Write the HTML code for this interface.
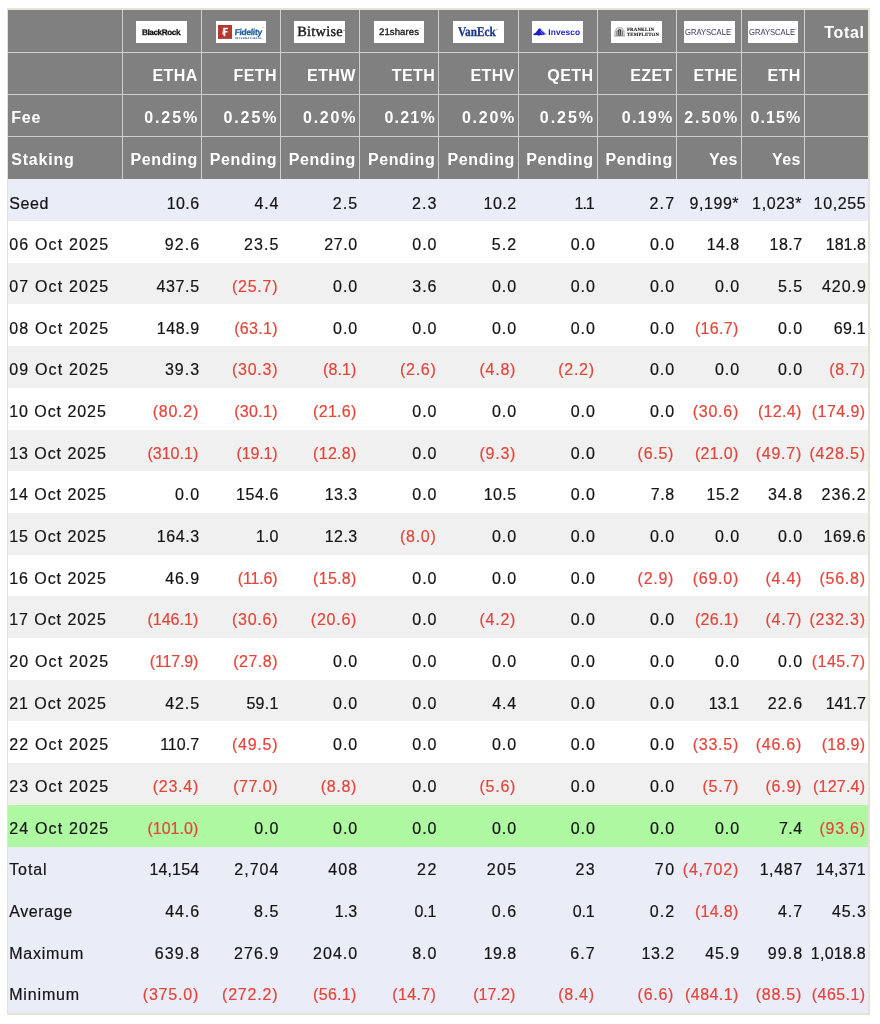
<!DOCTYPE html>
<html lang="en">
<head>
<meta charset="utf-8">
<title>Ethereum ETF Flow (US$m)</title>
<style>
html,body{margin:0;padding:0;background:#fff}
body{width:880px;height:1024px;position:relative;overflow:hidden;font-family:"Liberation Sans",Arial,sans-serif;-webkit-font-smoothing:antialiased}
.tbl{position:absolute;left:6.8px;top:8.3px;width:863.3px;height:1006.5px;background:#e6e2d6}
.hd{position:absolute;left:8.2px;top:10px;width:860px;height:169.3px;background:#808080}
.hl{position:absolute;left:8.2px;width:860px;height:1px;background:#cfcfcf}
.vl{position:absolute;top:10px;height:169.3px;width:1px;background:#cfcfcf}
.r{position:absolute;left:8.2px;width:860px;height:42px}
.t{position:absolute;left:0;width:860px;height:20px}
.c{position:absolute;top:0;height:20px;line-height:20px;font-size:16px;letter-spacing:1.05px;color:#141414;-webkit-text-stroke:.2px;text-align:right;white-space:nowrap}
.c.n{color:#e4453a}
.c.lb{text-align:left}
.h{position:absolute;height:20px;line-height:20px;font-size:16px;font-weight:bold;letter-spacing:0.4px;color:#fff;text-align:right;white-space:nowrap}
.h.lb{text-align:left}
.lg{position:absolute;top:21px;width:50.6px;height:22px;background:#fff;overflow:hidden}

.lg span{position:absolute;white-space:nowrap;line-height:1;transform-origin:0 0;text-rendering:geometricPrecision}
.lg svg{position:absolute}

</style>
</head>
<body>
<div class="tbl"></div>
<div class="r" style="top:179.3px;height:42px;background:#eaecf8">
<div class="t" style="top:14.3px">
<div class="c lb" style="left:1px;width:113.05px;letter-spacing:0.6px">Seed</div>
<div class="c" style="left:114.05px;width:77.28px;letter-spacing:0.43px">10.6</div>
<div class="c" style="left:193.3px;width:77.6px;letter-spacing:0.75px">4.4</div>
<div class="c" style="left:272.55px;width:77.51px;letter-spacing:1.06px">2.5</div>
<div class="c" style="left:351.4px;width:77.98px;letter-spacing:1.08px">2.3</div>
<div class="c" style="left:430.7px;width:77.66px;letter-spacing:0.46px">10.2</div>
<div class="c" style="left:510.3px;width:75.33px;letter-spacing:-0.97px">1.1</div>
<div class="c" style="left:589px;width:78.03px;letter-spacing:1.13px">2.7</div>
<div class="c" style="left:668.3px;width:62.65px;letter-spacing:0.55px">9,199*</div>
<div class="c" style="left:733.3px;width:60.74px;letter-spacing:0.64px">1,023*</div>
<div class="c" style="left:796.3px;width:61.95px;letter-spacing:0.65px">10,255</div>
</div></div>
<div class="r" style="top:221px;height:42px;background:#ffffff">
<div class="t" style="top:14.27px">
<div class="c lb" style="left:1px;width:113.05px;letter-spacing:1.18px">06 Oct 2025</div>
<div class="c" style="left:114.05px;width:77.89px;letter-spacing:1.04px">92.6</div>
<div class="c" style="left:193.3px;width:77.89px;letter-spacing:1.04px">23.5</div>
<div class="c" style="left:272.55px;width:77.08px;letter-spacing:0.63px">27.0</div>
<div class="c" style="left:351.4px;width:77.85px;letter-spacing:0.95px">0.0</div>
<div class="c" style="left:430.7px;width:78.25px;letter-spacing:1.05px">5.2</div>
<div class="c" style="left:510.3px;width:77.25px;letter-spacing:0.95px">0.0</div>
<div class="c" style="left:589px;width:77.85px;letter-spacing:0.95px">0.0</div>
<div class="c" style="left:668.3px;width:63.03px;letter-spacing:0.43px">14.8</div>
<div class="c" style="left:733.3px;width:61.06px;letter-spacing:0.46px">18.7</div>
<div class="c" style="left:796.3px;width:61.3px;letter-spacing:-0px">181.8</div>
</div></div>
<div class="r" style="top:262.7px;height:42px;background:#f0f0f0">
<div class="t" style="top:14.23px">
<div class="c lb" style="left:1px;width:113.05px;letter-spacing:1.18px">07 Oct 2025</div>
<div class="c" style="left:114.05px;width:77.48px;letter-spacing:0.63px">437.5</div>
<div class="c n" style="left:193.3px;width:76.87px;letter-spacing:0.77px">(25.7)</div>
<div class="c" style="left:272.55px;width:77.4px;letter-spacing:0.95px">0.0</div>
<div class="c" style="left:351.4px;width:77.88px;letter-spacing:0.98px">3.6</div>
<div class="c" style="left:430.7px;width:78.15px;letter-spacing:0.95px">0.0</div>
<div class="c" style="left:510.3px;width:77.25px;letter-spacing:0.95px">0.0</div>
<div class="c" style="left:589px;width:77.85px;letter-spacing:0.95px">0.0</div>
<div class="c" style="left:668.3px;width:63.55px;letter-spacing:0.95px">0.0</div>
<div class="c" style="left:733.3px;width:61.58px;letter-spacing:0.98px">5.5</div>
<div class="c" style="left:796.3px;width:62.25px;letter-spacing:0.95px">420.9</div>
</div></div>
<div class="r" style="top:304.4px;height:42px;background:#ffffff">
<div class="t" style="top:14.2px">
<div class="c lb" style="left:1px;width:113.05px;letter-spacing:1.18px">08 Oct 2025</div>
<div class="c" style="left:114.05px;width:77.44px;letter-spacing:0.59px">148.9</div>
<div class="c n" style="left:193.3px;width:76.41px;letter-spacing:0.31px">(63.1)</div>
<div class="c" style="left:272.55px;width:77.4px;letter-spacing:0.95px">0.0</div>
<div class="c" style="left:351.4px;width:77.85px;letter-spacing:0.95px">0.0</div>
<div class="c" style="left:430.7px;width:78.15px;letter-spacing:0.95px">0.0</div>
<div class="c" style="left:510.3px;width:77.25px;letter-spacing:0.95px">0.0</div>
<div class="c" style="left:589px;width:77.85px;letter-spacing:0.95px">0.0</div>
<div class="c n" style="left:668.3px;width:62.16px;letter-spacing:0.31px">(16.7)</div>
<div class="c" style="left:733.3px;width:61.55px;letter-spacing:0.95px">0.0</div>
<div class="c" style="left:796.3px;width:61.62px;letter-spacing:0.32px">69.1</div>
</div></div>
<div class="r" style="top:346.1px;height:42px;background:#f0f0f0">
<div class="t" style="top:14.17px">
<div class="c lb" style="left:1px;width:113.05px;letter-spacing:1.18px">09 Oct 2025</div>
<div class="c" style="left:114.05px;width:77.84px;letter-spacing:0.99px">39.3</div>
<div class="c n" style="left:193.3px;width:76.87px;letter-spacing:0.77px">(30.3)</div>
<div class="c n" style="left:272.55px;width:75.83px;letter-spacing:0.13px">(8.1)</div>
<div class="c n" style="left:351.4px;width:76.86px;letter-spacing:0.71px">(2.6)</div>
<div class="c n" style="left:430.7px;width:77.16px;letter-spacing:0.71px">(4.8)</div>
<div class="c n" style="left:510.3px;width:76.26px;letter-spacing:0.71px">(2.2)</div>
<div class="c" style="left:589px;width:77.85px;letter-spacing:0.95px">0.0</div>
<div class="c" style="left:668.3px;width:63.55px;letter-spacing:0.95px">0.0</div>
<div class="c" style="left:733.3px;width:61.55px;letter-spacing:0.95px">0.0</div>
<div class="c n" style="left:796.3px;width:61.26px;letter-spacing:0.71px">(8.7)</div>
</div></div>
<div class="r" style="top:387.8px;height:42px;background:#ffffff">
<div class="t" style="top:14.13px">
<div class="c lb" style="left:1px;width:113.05px;letter-spacing:0.95px">10 Oct 2025</div>
<div class="c n" style="left:114.05px;width:76.87px;letter-spacing:0.77px">(80.2)</div>
<div class="c n" style="left:193.3px;width:76.41px;letter-spacing:0.31px">(30.1)</div>
<div class="c n" style="left:272.55px;width:76.01px;letter-spacing:0.31px">(21.6)</div>
<div class="c" style="left:351.4px;width:77.85px;letter-spacing:0.95px">0.0</div>
<div class="c" style="left:430.7px;width:78.15px;letter-spacing:0.95px">0.0</div>
<div class="c" style="left:510.3px;width:77.25px;letter-spacing:0.95px">0.0</div>
<div class="c" style="left:589px;width:77.85px;letter-spacing:0.95px">0.0</div>
<div class="c n" style="left:668.3px;width:62.62px;letter-spacing:0.77px">(30.6)</div>
<div class="c n" style="left:733.3px;width:60.16px;letter-spacing:0.31px">(12.4)</div>
<div class="c n" style="left:796.3px;width:60.97px;letter-spacing:0.42px">(174.9)</div>
</div></div>
<div class="r" style="top:429.5px;height:42px;background:#f0f0f0">
<div class="t" style="top:14.1px">
<div class="c lb" style="left:1px;width:113.05px;letter-spacing:0.95px">13 Oct 2025</div>
<div class="c n" style="left:114.05px;width:76.14px;letter-spacing:0.04px">(310.1)</div>
<div class="c n" style="left:193.3px;width:75.95px;letter-spacing:-0.15px">(19.1)</div>
<div class="c n" style="left:272.55px;width:76.01px;letter-spacing:0.31px">(12.8)</div>
<div class="c" style="left:351.4px;width:77.85px;letter-spacing:0.95px">0.0</div>
<div class="c n" style="left:430.7px;width:77.16px;letter-spacing:0.71px">(9.3)</div>
<div class="c" style="left:510.3px;width:77.25px;letter-spacing:0.95px">0.0</div>
<div class="c n" style="left:589px;width:76.86px;letter-spacing:0.71px">(6.5)</div>
<div class="c n" style="left:668.3px;width:62.16px;letter-spacing:0.31px">(21.0)</div>
<div class="c n" style="left:733.3px;width:60.62px;letter-spacing:0.77px">(49.7)</div>
<div class="c n" style="left:796.3px;width:61.36px;letter-spacing:0.81px">(428.5)</div>
</div></div>
<div class="r" style="top:471.2px;height:42px;background:#ffffff">
<div class="t" style="top:14.07px">
<div class="c lb" style="left:1px;width:113.05px;letter-spacing:0.95px">14 Oct 2025</div>
<div class="c" style="left:114.05px;width:77.8px;letter-spacing:0.95px">0.0</div>
<div class="c" style="left:193.3px;width:77.42px;letter-spacing:0.57px">154.6</div>
<div class="c" style="left:272.55px;width:76.88px;letter-spacing:0.43px">13.3</div>
<div class="c" style="left:351.4px;width:77.85px;letter-spacing:0.95px">0.0</div>
<div class="c" style="left:430.7px;width:77.62px;letter-spacing:0.42px">10.5</div>
<div class="c" style="left:510.3px;width:77.25px;letter-spacing:0.95px">0.0</div>
<div class="c" style="left:589px;width:77.39px;letter-spacing:0.49px">7.8</div>
<div class="c" style="left:668.3px;width:63.06px;letter-spacing:0.46px">15.2</div>
<div class="c" style="left:733.3px;width:61.59px;letter-spacing:0.99px">34.8</div>
<div class="c" style="left:796.3px;width:62.37px;letter-spacing:1.07px">236.2</div>
</div></div>
<div class="r" style="top:512.9px;height:42px;background:#f0f0f0">
<div class="t" style="top:14.04px">
<div class="c lb" style="left:1px;width:113.05px;letter-spacing:0.95px">15 Oct 2025</div>
<div class="c" style="left:114.05px;width:77.42px;letter-spacing:0.57px">164.3</div>
<div class="c" style="left:193.3px;width:76.95px;letter-spacing:0.1px">1.0</div>
<div class="c" style="left:272.55px;width:76.88px;letter-spacing:0.43px">12.3</div>
<div class="c n" style="left:351.4px;width:76.86px;letter-spacing:0.71px">(8.0)</div>
<div class="c" style="left:430.7px;width:78.15px;letter-spacing:0.95px">0.0</div>
<div class="c" style="left:510.3px;width:77.25px;letter-spacing:0.95px">0.0</div>
<div class="c" style="left:589px;width:77.85px;letter-spacing:0.95px">0.0</div>
<div class="c" style="left:668.3px;width:63.55px;letter-spacing:0.95px">0.0</div>
<div class="c" style="left:733.3px;width:61.55px;letter-spacing:0.95px">0.0</div>
<div class="c" style="left:796.3px;width:61.87px;letter-spacing:0.57px">169.6</div>
</div></div>
<div class="r" style="top:554.6px;height:42px;background:#ffffff">
<div class="t" style="top:14px">
<div class="c lb" style="left:1px;width:113.05px;letter-spacing:0.95px">16 Oct 2025</div>
<div class="c" style="left:114.05px;width:77.78px;letter-spacing:0.93px">46.9</div>
<div class="c n" style="left:193.3px;width:75.95px;letter-spacing:-0.15px">(11.6)</div>
<div class="c n" style="left:272.55px;width:76.01px;letter-spacing:0.31px">(15.8)</div>
<div class="c" style="left:351.4px;width:77.85px;letter-spacing:0.95px">0.0</div>
<div class="c" style="left:430.7px;width:78.15px;letter-spacing:0.95px">0.0</div>
<div class="c" style="left:510.3px;width:77.25px;letter-spacing:0.95px">0.0</div>
<div class="c n" style="left:589px;width:76.86px;letter-spacing:0.71px">(2.9)</div>
<div class="c n" style="left:668.3px;width:62.62px;letter-spacing:0.77px">(69.0)</div>
<div class="c n" style="left:733.3px;width:60.56px;letter-spacing:0.71px">(4.4)</div>
<div class="c n" style="left:796.3px;width:61.32px;letter-spacing:0.77px">(56.8)</div>
</div></div>
<div class="r" style="top:596.3px;height:42px;background:#f0f0f0">
<div class="t" style="top:13.97px">
<div class="c lb" style="left:1px;width:113.05px;letter-spacing:0.95px">17 Oct 2025</div>
<div class="c n" style="left:114.05px;width:76.14px;letter-spacing:0.04px">(146.1)</div>
<div class="c n" style="left:193.3px;width:76.87px;letter-spacing:0.77px">(30.6)</div>
<div class="c n" style="left:272.55px;width:76.47px;letter-spacing:0.77px">(20.6)</div>
<div class="c" style="left:351.4px;width:77.85px;letter-spacing:0.95px">0.0</div>
<div class="c n" style="left:430.7px;width:77.16px;letter-spacing:0.71px">(4.2)</div>
<div class="c" style="left:510.3px;width:77.25px;letter-spacing:0.95px">0.0</div>
<div class="c" style="left:589px;width:77.85px;letter-spacing:0.95px">0.0</div>
<div class="c n" style="left:668.3px;width:62.16px;letter-spacing:0.31px">(26.1)</div>
<div class="c n" style="left:733.3px;width:60.56px;letter-spacing:0.71px">(4.7)</div>
<div class="c n" style="left:796.3px;width:61.36px;letter-spacing:0.81px">(232.3)</div>
</div></div>
<div class="r" style="top:638px;height:42px;background:#ffffff">
<div class="t" style="top:13.94px">
<div class="c lb" style="left:1px;width:113.05px;letter-spacing:1.18px">20 Oct 2025</div>
<div class="c n" style="left:114.05px;width:75.94px;letter-spacing:-0.16px">(117.9)</div>
<div class="c n" style="left:193.3px;width:76.63px;letter-spacing:0.53px">(27.8)</div>
<div class="c" style="left:272.55px;width:77.4px;letter-spacing:0.95px">0.0</div>
<div class="c" style="left:351.4px;width:77.85px;letter-spacing:0.95px">0.0</div>
<div class="c" style="left:430.7px;width:78.15px;letter-spacing:0.95px">0.0</div>
<div class="c" style="left:510.3px;width:77.25px;letter-spacing:0.95px">0.0</div>
<div class="c" style="left:589px;width:77.85px;letter-spacing:0.95px">0.0</div>
<div class="c" style="left:668.3px;width:63.55px;letter-spacing:0.95px">0.0</div>
<div class="c" style="left:733.3px;width:61.55px;letter-spacing:0.95px">0.0</div>
<div class="c n" style="left:796.3px;width:60.97px;letter-spacing:0.42px">(145.7)</div>
</div></div>
<div class="r" style="top:679.7px;height:42px;background:#f0f0f0">
<div class="t" style="top:13.9px">
<div class="c lb" style="left:1px;width:113.05px;letter-spacing:0.95px">21 Oct 2025</div>
<div class="c" style="left:114.05px;width:77.75px;letter-spacing:0.9px">42.5</div>
<div class="c" style="left:193.3px;width:77.11px;letter-spacing:0.26px">59.1</div>
<div class="c" style="left:272.55px;width:77.4px;letter-spacing:0.95px">0.0</div>
<div class="c" style="left:351.4px;width:77.85px;letter-spacing:0.95px">0.0</div>
<div class="c" style="left:430.7px;width:77.95px;letter-spacing:0.75px">4.4</div>
<div class="c" style="left:510.3px;width:77.25px;letter-spacing:0.95px">0.0</div>
<div class="c" style="left:589px;width:77.85px;letter-spacing:0.95px">0.0</div>
<div class="c" style="left:668.3px;width:62.29px;letter-spacing:-0.31px">13.1</div>
<div class="c" style="left:733.3px;width:61.65px;letter-spacing:1.05px">22.6</div>
<div class="c" style="left:796.3px;width:61.32px;letter-spacing:0.02px">141.7</div>
</div></div>
<div class="r" style="top:721.4px;height:42px;background:#ffffff">
<div class="t" style="top:13.87px">
<div class="c lb" style="left:1px;width:113.05px;letter-spacing:1.18px">22 Oct 2025</div>
<div class="c" style="left:114.05px;width:76.87px;letter-spacing:0.02px">110.7</div>
<div class="c n" style="left:193.3px;width:76.87px;letter-spacing:0.77px">(49.5)</div>
<div class="c" style="left:272.55px;width:77.4px;letter-spacing:0.95px">0.0</div>
<div class="c" style="left:351.4px;width:77.85px;letter-spacing:0.95px">0.0</div>
<div class="c" style="left:430.7px;width:78.15px;letter-spacing:0.95px">0.0</div>
<div class="c" style="left:510.3px;width:77.25px;letter-spacing:0.95px">0.0</div>
<div class="c" style="left:589px;width:77.85px;letter-spacing:0.95px">0.0</div>
<div class="c n" style="left:668.3px;width:62.62px;letter-spacing:0.77px">(33.5)</div>
<div class="c n" style="left:733.3px;width:60.62px;letter-spacing:0.77px">(46.6)</div>
<div class="c n" style="left:796.3px;width:60.86px;letter-spacing:0.31px">(18.9)</div>
</div></div>
<div class="r" style="top:763.1px;height:42px;background:#f0f0f0">
<div class="t" style="top:13.84px">
<div class="c lb" style="left:1px;width:113.05px;letter-spacing:1.18px">23 Oct 2025</div>
<div class="c n" style="left:114.05px;width:76.87px;letter-spacing:0.77px">(23.4)</div>
<div class="c n" style="left:193.3px;width:76.63px;letter-spacing:0.53px">(77.0)</div>
<div class="c n" style="left:272.55px;width:76.41px;letter-spacing:0.71px">(8.8)</div>
<div class="c" style="left:351.4px;width:77.85px;letter-spacing:0.95px">0.0</div>
<div class="c n" style="left:430.7px;width:77.16px;letter-spacing:0.71px">(5.6)</div>
<div class="c" style="left:510.3px;width:77.25px;letter-spacing:0.95px">0.0</div>
<div class="c" style="left:589px;width:77.85px;letter-spacing:0.95px">0.0</div>
<div class="c n" style="left:668.3px;width:62.56px;letter-spacing:0.71px">(5.7)</div>
<div class="c n" style="left:733.3px;width:60.56px;letter-spacing:0.71px">(6.9)</div>
<div class="c n" style="left:796.3px;width:60.77px;letter-spacing:0.22px">(127.4)</div>
</div></div>
<div class="r" style="top:804.8px;height:42px;background:#adf8a0">
<div class="t" style="top:13.81px">
<div class="c lb" style="left:1px;width:113.05px;letter-spacing:1.18px">24 Oct 2025</div>
<div class="c n" style="left:114.05px;width:76.14px;letter-spacing:0.04px">(101.0)</div>
<div class="c" style="left:193.3px;width:77.8px;letter-spacing:0.95px">0.0</div>
<div class="c" style="left:272.55px;width:77.4px;letter-spacing:0.95px">0.0</div>
<div class="c" style="left:351.4px;width:77.85px;letter-spacing:0.95px">0.0</div>
<div class="c" style="left:430.7px;width:78.15px;letter-spacing:0.95px">0.0</div>
<div class="c" style="left:510.3px;width:77.25px;letter-spacing:0.95px">0.0</div>
<div class="c" style="left:589px;width:77.85px;letter-spacing:0.95px">0.0</div>
<div class="c" style="left:668.3px;width:63.55px;letter-spacing:0.95px">0.0</div>
<div class="c" style="left:733.3px;width:60.97px;letter-spacing:0.37px">7.4</div>
<div class="c n" style="left:796.3px;width:61.32px;letter-spacing:0.77px">(93.6)</div>
</div></div>
<div class="r" style="top:846.5px;height:42px;background:#eaecf8">
<div class="t" style="top:13.77px">
<div class="c lb" style="left:1px;width:113.05px;letter-spacing:0.9px">Total</div>
<div class="c" style="left:114.05px;width:77px;letter-spacing:0.15px">14,154</div>
<div class="c" style="left:193.3px;width:77.83px;letter-spacing:0.98px">2,704</div>
<div class="c" style="left:272.55px;width:77.54px;letter-spacing:1.09px">408</div>
<div class="c" style="left:351.4px;width:78.6px;letter-spacing:1.7px">22</div>
<div class="c" style="left:430.7px;width:78.49px;letter-spacing:1.29px">205</div>
<div class="c" style="left:510.3px;width:77.9px;letter-spacing:1.6px">23</div>
<div class="c" style="left:589px;width:78.44px;letter-spacing:1.54px">70</div>
<div class="c n" style="left:668.3px;width:62.66px;letter-spacing:0.81px">(4,702)</div>
<div class="c" style="left:733.3px;width:61.2px;letter-spacing:0.6px">1,487</div>
<div class="c" style="left:796.3px;width:61.51px;letter-spacing:0.21px">14,371</div>
</div></div>
<div class="r" style="top:888.2px;height:42px;background:#eaecf8">
<div class="t" style="top:13.74px">
<div class="c lb" style="left:1px;width:113.05px;letter-spacing:0.6px">Average</div>
<div class="c" style="left:114.05px;width:77.76px;letter-spacing:0.91px">44.6</div>
<div class="c" style="left:193.3px;width:77.86px;letter-spacing:1.01px">8.5</div>
<div class="c" style="left:272.55px;width:76.59px;letter-spacing:0.14px">1.3</div>
<div class="c" style="left:351.4px;width:76.78px;letter-spacing:-0.12px">0.1</div>
<div class="c" style="left:430.7px;width:78.19px;letter-spacing:0.99px">0.6</div>
<div class="c" style="left:510.3px;width:76.18px;letter-spacing:-0.12px">0.1</div>
<div class="c" style="left:589px;width:77.94px;letter-spacing:1.04px">0.2</div>
<div class="c n" style="left:668.3px;width:62.16px;letter-spacing:0.31px">(14.8)</div>
<div class="c" style="left:733.3px;width:61.51px;letter-spacing:0.91px">4.7</div>
<div class="c" style="left:796.3px;width:62.21px;letter-spacing:0.91px">45.3</div>
</div></div>
<div class="r" style="top:929.9px;height:42px;background:#eaecf8">
<div class="t" style="top:13.71px">
<div class="c lb" style="left:1px;width:113.05px;letter-spacing:0.78px">Maximum</div>
<div class="c" style="left:114.05px;width:77.89px;letter-spacing:1.04px">639.8</div>
<div class="c" style="left:193.3px;width:77.91px;letter-spacing:1.06px">276.9</div>
<div class="c" style="left:272.55px;width:77.47px;letter-spacing:1.02px">204.0</div>
<div class="c" style="left:351.4px;width:77.89px;letter-spacing:0.99px">8.0</div>
<div class="c" style="left:430.7px;width:77.63px;letter-spacing:0.43px">19.8</div>
<div class="c" style="left:510.3px;width:77.43px;letter-spacing:1.13px">6.7</div>
<div class="c" style="left:589px;width:77.36px;letter-spacing:0.46px">13.2</div>
<div class="c" style="left:668.3px;width:63.53px;letter-spacing:0.93px">45.9</div>
<div class="c" style="left:733.3px;width:61.64px;letter-spacing:1.04px">99.8</div>
<div class="c" style="left:796.3px;width:61.56px;letter-spacing:0.26px">1,018.8</div>
</div></div>
<div class="r" style="top:971.6px;height:41.3px;background:#eaecf8">
<div class="t" style="top:13.67px">
<div class="c lb" style="left:1px;width:113.05px;letter-spacing:0.85px">Minimum</div>
<div class="c n" style="left:114.05px;width:76.91px;letter-spacing:0.81px">(375.0)</div>
<div class="c n" style="left:193.3px;width:76.91px;letter-spacing:0.81px">(272.2)</div>
<div class="c n" style="left:272.55px;width:76.01px;letter-spacing:0.31px">(56.1)</div>
<div class="c n" style="left:351.4px;width:76.46px;letter-spacing:0.31px">(14.7)</div>
<div class="c n" style="left:430.7px;width:76.52px;letter-spacing:0.07px">(17.2)</div>
<div class="c n" style="left:510.3px;width:76.26px;letter-spacing:0.71px">(8.4)</div>
<div class="c n" style="left:589px;width:76.86px;letter-spacing:0.71px">(6.6)</div>
<div class="c n" style="left:668.3px;width:62.27px;letter-spacing:0.42px">(484.1)</div>
<div class="c n" style="left:733.3px;width:60.62px;letter-spacing:0.77px">(88.5)</div>
<div class="c n" style="left:796.3px;width:60.97px;letter-spacing:0.42px">(465.1)</div>
</div></div>
<div class="hd"></div>
<div class="hl" style="top:52px"></div>
<div class="hl" style="top:94px"></div>
<div class="hl" style="top:136px"></div>
<div class="vl" style="left:121.75px"></div>
<div class="vl" style="left:201px"></div>
<div class="vl" style="left:280.25px"></div>
<div class="vl" style="left:359.1px"></div>
<div class="vl" style="left:438.4px"></div>
<div class="vl" style="left:518px"></div>
<div class="vl" style="left:596.7px"></div>
<div class="vl" style="left:676px"></div>
<div class="vl" style="left:741px"></div>
<div class="vl" style="left:804px"></div>
<div class="h" style="left:804.5px;top:22.8px;width:60.2px;letter-spacing:0.7px">Total</div>
<div class="h" style="left:122.25px;top:65.8px;width:75.45px;letter-spacing:0.4px">ETHA</div>
<div class="h" style="left:201.5px;top:65.8px;width:75.45px;letter-spacing:0.4px">FETH</div>
<div class="h" style="left:280.75px;top:65.8px;width:75.05px;letter-spacing:0.4px">ETHW</div>
<div class="h" style="left:359.6px;top:65.8px;width:75.5px;letter-spacing:0.4px">TETH</div>
<div class="h" style="left:438.9px;top:65.8px;width:75.8px;letter-spacing:0.4px">ETHV</div>
<div class="h" style="left:518.5px;top:65.8px;width:74.9px;letter-spacing:0.4px">QETH</div>
<div class="h" style="left:597.2px;top:65.8px;width:75.5px;letter-spacing:0.4px">EZET</div>
<div class="h" style="left:676.5px;top:65.8px;width:61.2px;letter-spacing:0.4px">ETHE</div>
<div class="h" style="left:741.5px;top:65.8px;width:59.2px;letter-spacing:0.4px">ETH</div>
<div class="h lb" style="left:11.2px;top:107.8px;width:110px;letter-spacing:0.8px">Fee</div>
<div class="h" style="left:122.25px;top:107.8px;width:77px;letter-spacing:1.95px">0.25%</div>
<div class="h" style="left:201.5px;top:107.8px;width:77px;letter-spacing:1.95px">0.25%</div>
<div class="h" style="left:280.75px;top:107.8px;width:76.4px;letter-spacing:1.75px">0.20%</div>
<div class="h" style="left:359.6px;top:107.8px;width:76.3px;letter-spacing:1.2px">0.21%</div>
<div class="h" style="left:438.9px;top:107.8px;width:77.15px;letter-spacing:1.75px">0.20%</div>
<div class="h" style="left:518.5px;top:107.8px;width:76.45px;letter-spacing:1.95px">0.25%</div>
<div class="h" style="left:597.2px;top:107.8px;width:76.4px;letter-spacing:1.3px">0.19%</div>
<div class="h" style="left:676.5px;top:107.8px;width:62.7px;letter-spacing:1.9px">2.50%</div>
<div class="h" style="left:741.5px;top:107.8px;width:59.9px;letter-spacing:1.1px">0.15%</div>
<div class="h lb" style="left:11.2px;top:149.8px;width:110px;letter-spacing:0.8px">Staking</div>
<div class="h" style="left:122.25px;top:149.8px;width:75.65px;letter-spacing:0.6px">Pending</div>
<div class="h" style="left:201.5px;top:149.8px;width:75.65px;letter-spacing:0.6px">Pending</div>
<div class="h" style="left:280.75px;top:149.8px;width:75.25px;letter-spacing:0.6px">Pending</div>
<div class="h" style="left:359.6px;top:149.8px;width:75.7px;letter-spacing:0.6px">Pending</div>
<div class="h" style="left:438.9px;top:149.8px;width:76px;letter-spacing:0.6px">Pending</div>
<div class="h" style="left:518.5px;top:149.8px;width:75.1px;letter-spacing:0.6px">Pending</div>
<div class="h" style="left:597.2px;top:149.8px;width:75.7px;letter-spacing:0.6px">Pending</div>
<div class="h" style="left:676.5px;top:149.8px;width:61.1px;letter-spacing:0.3px">Yes</div>
<div class="h" style="left:741.5px;top:149.8px;width:59.1px;letter-spacing:0.3px">Yes</div>
<div class="lg" style="left:136.3px"><span style="left:5.6px;top:7.7px;font-size:8.1px;font-weight:bold;letter-spacing:-.36px;color:#0c0c0c;-webkit-text-stroke:.25px #0c0c0c">BlackRock<i style="font-style:normal;font-size:3px">.</i></span></div>
<div class="lg" style="left:215.8px"><svg style="left:2.2px;top:3.8px" width="14" height="13.9" viewBox="0 0 14 13.6" preserveAspectRatio="none"><rect width="14" height="13.6" fill="#b3392d"/><path d="M5.2 2.7h4.6v1.5H7.3v1.7h2.1v1.4H7.3V11L6.2 11.1 5.2 8.6z" fill="#fff"/><path d="M5.2 2.7 4.3 8.4l1.4 2.7z" fill="#f4d8d4"/></svg><span style="left:19.3px;top:6.5px;font-size:8.5px;font-weight:bold;letter-spacing:-.32px;color:#24609a;-webkit-text-stroke:.25px #24609a;transform:skewX(-5deg)">Fidelity</span><span style="left:19.4px;top:15.8px;font-size:10px;font-weight:bold;letter-spacing:2.2px;color:#24609a;-webkit-text-stroke:.3px #24609a;transform:scale(.25)">INTERNATIONAL</span><span style="left:46.3px;top:5.6px;font-size:8px;color:#2b6aa3;transform:scale(.2)">TM</span></div>
<div class="lg" style="left:294.2px"><span style="left:3px;top:4.2px;font-family:'Liberation Serif',serif;font-size:14.3px;letter-spacing:.3px;color:#1c1c1c;-webkit-text-stroke:.4px #1c1c1c">Bitwise<i style="font-style:normal;font-size:2.4px;vertical-align:5.5px;letter-spacing:0;-webkit-text-stroke:0">&reg;</i></span></div>
<div class="lg" style="left:373.8px"><span style="left:5.2px;top:7.2px;font-size:9.6px;letter-spacing:.08px;color:#141414;-webkit-text-stroke:.3px #141414">21shares<i style="font-style:normal;font-size:1.8px;vertical-align:5.6px;letter-spacing:0;-webkit-text-stroke:0">&trade;</i></span></div>
<div class="lg" style="left:453px"><span style="left:4.8px;top:3.5px;font-family:'Liberation Serif',serif;font-size:13.3px;font-weight:bold;color:#1b3a80;-webkit-text-stroke:.3px #1b3a80;transform:scaleX(.85)">VanEck<i style="font-style:normal;font-size:2.6px;vertical-align:6.5px;font-weight:normal;-webkit-text-stroke:0">&reg;</i></span></div>
<div class="lg" style="left:532px"><svg style="left:1.4px;top:7.2px" width="14" height="8" viewBox="0 0 14 8"><path d="M.3 6 2.6 4.8 4.6 2.3 5.7.8 6.5.3 7.3.6 8.1 1.3 9.6 2.8 11.6 4.8 13.4 6.2 11.6 6.5 9.6 7.2 7.6 6.9 5.6 7.8 3.6 7 1.6 7.2.3 6.7z" fill="#1d1dcb"/><path d="M7.700000000000001 1.8Q9.8 3 12.3 5.9" stroke="#fff" stroke-width=".6" fill="none"/><path d="M7.3 3.2Q8.6 4.5 9.9 6.9" stroke="#fff" stroke-width=".45" fill="none" opacity=".85"/></svg><span style="left:16.3px;top:7px;font-size:8.4px;font-weight:bold;letter-spacing:.12px;color:#1b1bcc">Invesco</span></div>
<div class="lg" style="left:611px"><svg style="left:3.2px;top:6.2px" width="11.2" height="9.4" viewBox="0 0 11.2 9.4"><path d="M.7 8.8V5.2A4.900000000000001 4.900000000000001 0 0 1 10.5 5.2V8.8z" fill="#d6d6d6"/><path d="M.9 8.8V5.2A4.700000000000001 4.700000000000001 0 0 1 10.3 5.2V8.8" fill="none" stroke="#8a8a8a" stroke-width=".45"/><path d="M2.5 8.7V4.2l.9-1.1v5.6zM7.8 8.7V3.1l.9 1.1v4.5z" fill="#5a5a5a"/><path d="M4.3 8.7V5.600000000000001L4 3.8 4.800000000000001 2.2h1.6l.8 1.6-.3 1.8v3.1z" fill="#2e2e2e"/><path d="M5.6 3v5.300000000000001" stroke="#dcdcdc" stroke-width=".7"/><path d="M0 9h11.2" stroke="#666" stroke-width=".6"/></svg><span style="left:15.9px;top:6.1px;font-family:'Liberation Serif',serif;font-size:19.6px;font-weight:bold;letter-spacing:.5px;color:#1e1e1e;-webkit-text-stroke:.5px #1e1e1e;transform:scale(.25)">FRANKLIN</span><span style="left:15.9px;top:11.3px;font-family:'Liberation Serif',serif;font-size:19.6px;font-weight:bold;letter-spacing:.4px;color:#1e1e1e;-webkit-text-stroke:.5px #1e1e1e;transform:scale(.25)">TEMPLETON</span></div>
<div class="lg" style="left:684px"><span style="left:1.3px;top:6.5px;font-size:8.7px;color:#37305c;transform:scaleX(.876)">GRAYSCALE<i style="font-style:normal;font-size:1.8px;vertical-align:5px">&reg;</i></span></div>
<div class="lg" style="left:747.6px"><span style="left:1.3px;top:6.5px;font-size:8.7px;color:#37305c;transform:scaleX(.876)">GRAYSCALE<i style="font-style:normal;font-size:1.8px;vertical-align:5px">&reg;</i></span></div>

</body>
</html>
